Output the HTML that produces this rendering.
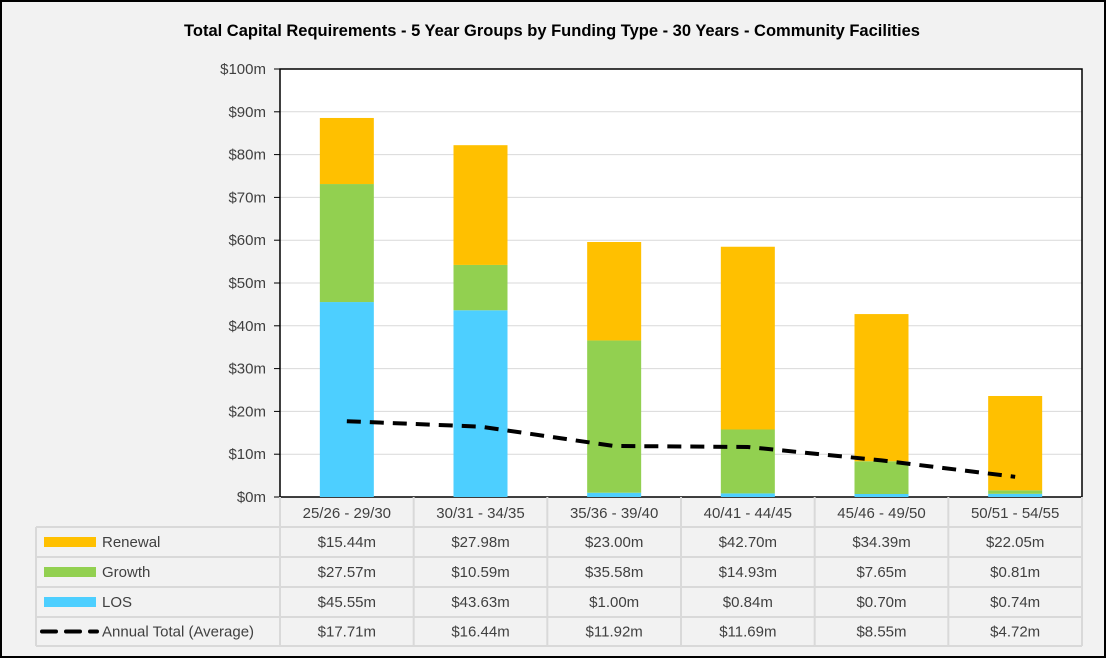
<!DOCTYPE html>
<html><head><meta charset="utf-8"><style>
body{margin:0;background:#fff}
#wrap{position:relative;width:1106px;height:658px;background:#f2f2f2;box-sizing:border-box;border:2px solid #000;font-family:"Liberation Sans",sans-serif;overflow:hidden}
svg{position:absolute;left:-2px;top:-2px}
</style></head><body>
<div id="wrap">
<svg id="chart" width="1106" height="658"></svg>
</div>
<script>
const categories=["25/26 - 29/30","30/31 - 34/35","35/36 - 39/40","40/41 - 44/45","45/46 - 49/50","50/51 - 54/55"];
const renewal=[15.44,27.98,23.00,42.70,34.39,22.05];
const growth=[27.57,10.59,35.58,14.93,7.65,0.81];
const los=[45.55,43.63,1.00,0.84,0.70,0.74];
const avg=[17.71,16.44,11.92,11.69,8.55,4.72];
const yTicks=[0,10,20,30,40,50,60,70,80,90,100];
const seriesNames=["Renewal","Growth","LOS","Annual Total (Average)"];
const NS="http://www.w3.org/2000/svg";
const svg=document.getElementById('chart');
const X0=280,X1=1082,Y0=497,Y1=69;
const cw=(X1-X0)/categories.length;
const y=v=>Y0-(v/100)*(Y0-Y1);
const xc=i=>X0+cw*(i+0.5);
function mk(t,a,p){const e=document.createElementNS(NS,t);for(const k in a)e.setAttribute(k,a[k]);(p||svg).appendChild(e);return e;}
function txt(s,a){const e=mk('text',Object.assign({'font-family':'"Liberation Sans",sans-serif','font-size':15,fill:'#404040'},a));e.textContent=s;return e;}
const title=txt("Total Capital Requirements - 5 Year Groups by Funding Type - 30 Years - Community Facilities",{x:552,y:36,'text-anchor':'middle','font-weight':'bold','font-size':16.5,fill:'#000'});


const plot=mk('rect',{x:X0,y:Y1,width:X1-X0,height:Y0-Y1,fill:'#fff'});


yTicks.forEach(t=>{
 if(t>0){const g=mk('line',{x1:X0,x2:X1,y1:y(t),y2:y(t),stroke:'#d9d9d9','stroke-width':1});
 
 }
 const l=txt('$'+t+'m',{x:266,y:y(t)+5,'text-anchor':'end'});
 
 
 mk('line',{x1:274,x2:X0,y1:y(t),y2:y(t),stroke:'#000','stroke-width':1});
});
mk('rect',{x:X0,y:Y1,width:X1-X0,height:Y0-Y1,fill:'none',stroke:'#000','stroke-width':1.5});
const bw=54;
categories.forEach((c,i)=>{
 let base=0;
 [[los,'#4dcfff','bar-los'],[growth,'#92d050','bar-growth'],[renewal,'#ffc000','bar-renewal']].forEach(([arr,col,nm])=>{
  const r=mk('rect',{x:xc(i)-bw/2,y:y(base+arr[i]),width:bw,height:y(base)-y(base+arr[i]),fill:col});
  
  
  base+=arr[i];
 });
});
const pts=avg.map((v,i)=>xc(i)+','+y(v)).join(' ');
const line=mk('polyline',{points:pts,fill:'none',stroke:'#000','stroke-width':4,'stroke-dasharray':'14,9'});


const rowsY=[497,527,557,587,617,646];
const gridC='#d9d9d9';
[527,557,587,617,646].forEach(yy=>mk('line',{x1:36,x2:X1,y1:yy,y2:yy,stroke:gridC,'stroke-width':2}));
mk('line',{x1:36,x2:36,y1:527,y2:646,stroke:gridC,'stroke-width':2});
for(let i=0;i<=categories.length;i++)mk('line',{x1:X0+cw*i,x2:X0+cw*i,y1:497,y2:646,stroke:gridC,'stroke-width':2});
categories.forEach((c,i)=>{
 const t=txt(c,{x:xc(i),y:518,'text-anchor':'middle'});
 
 
});
const rowData=[renewal,growth,los,avg];
const cols=['#ffc000','#92d050','#4dcfff','#000'];
seriesNames.forEach((n,r)=>{
 const cy=(rowsY[r+1]+rowsY[r+2])/2;
 if(r<3){const k=mk('rect',{x:44,y:cy-5,width:52,height:10,fill:cols[r]});
  
  }
 else{const k=mk('line',{x1:42,x2:97,y1:cy,y2:cy,stroke:'#000','stroke-width':4,'stroke-dasharray':'14,10','stroke-linecap':'round'});
  
  }
 const lt=txt(n,{x:102,y:cy+5});
 
 
 rowData[r].forEach((v,i)=>{
  const t=txt('$'+v.toFixed(2)+'m',{x:xc(i),y:cy+5,'text-anchor':'middle'});
  
  
 });
});
</script>
</body></html>
